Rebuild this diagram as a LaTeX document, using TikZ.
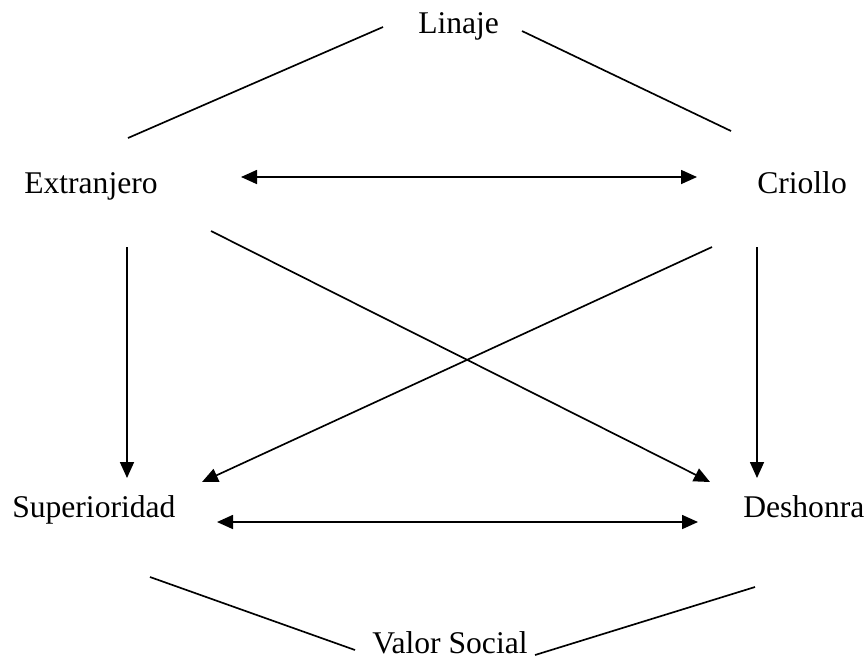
\documentclass[tikz,border=0pt]{standalone}
\usepackage{fontspec}
\setmainfont{Liberation Serif}
\usetikzlibrary{arrows.meta}
\begin{document}
\begin{tikzpicture}[x=0.75pt,y=-0.75pt,
  label/.style={inner sep=0pt,anchor=base west,font=\fontsize{23.7}{28}\selectfont},
  link/.style={line width=1.25pt},
  tip/.style={Triangle[length=12pt,width=10.5pt]},
  arrow/.style={link,-{Triangle[length=12pt,width=10.5pt]}},
  twoway/.style={link,{Triangle[length=12pt,width=10.5pt]}-{Triangle[length=12pt,width=10.5pt]}}]
\useasboundingbox (0,0) rectangle (866,658);

% concept labels
\node[label] (linaje) at (418,33) {Linaje};
\node[label] (extr) at (24,193) {Extranjero};
\node[label] (criollo) at (757,193) {Criollo};
\node[label] (sup) at (12,517) {Superioridad};
\node[label] (desh) at (743,517) {Deshonra};
\node[label] (valor) at (372,653) {Valor Social};

% connector end points
\coordinate (linL) at (383,27);
\coordinate (linR) at (522,31);
\coordinate (extTop) at (128,138);
\coordinate (criTop) at (731,131);
\coordinate (extE) at (241,177);
\coordinate (criW) at (697,177);
\coordinate (extS) at (127,247);
\coordinate (extSE) at (211,231);
\coordinate (criS) at (757,247);
\coordinate (criSW) at (712,247);
\coordinate (supN) at (127,478);
\coordinate (supNE) at (202,482);
\coordinate (deshN) at (757,478);
\coordinate (deshNW) at (710,482);
\coordinate (supE) at (217,522);
\coordinate (deshW) at (698,522);
\coordinate (supBot) at (150,577);
\coordinate (deshBot) at (755,587);
\coordinate (valL) at (355,650);
\coordinate (valR) at (535,655);

% undirected links
\draw[link] (linL) -- (extTop);
\draw[link] (linR) -- (criTop);
\draw[link] (supBot) -- (valL);
\draw[link] (deshBot) -- (valR);

% directed links
\draw[twoway] (extE) -- (criW);
\draw[twoway] (supE) -- (deshW);
\draw[arrow] (extS) -- (supN);
\draw[arrow] (criS) -- (deshN);
\draw[arrow] (extSE) -- (deshNW);
\draw[arrow] (criSW) -- (supNE);
\end{tikzpicture}
\end{document}
